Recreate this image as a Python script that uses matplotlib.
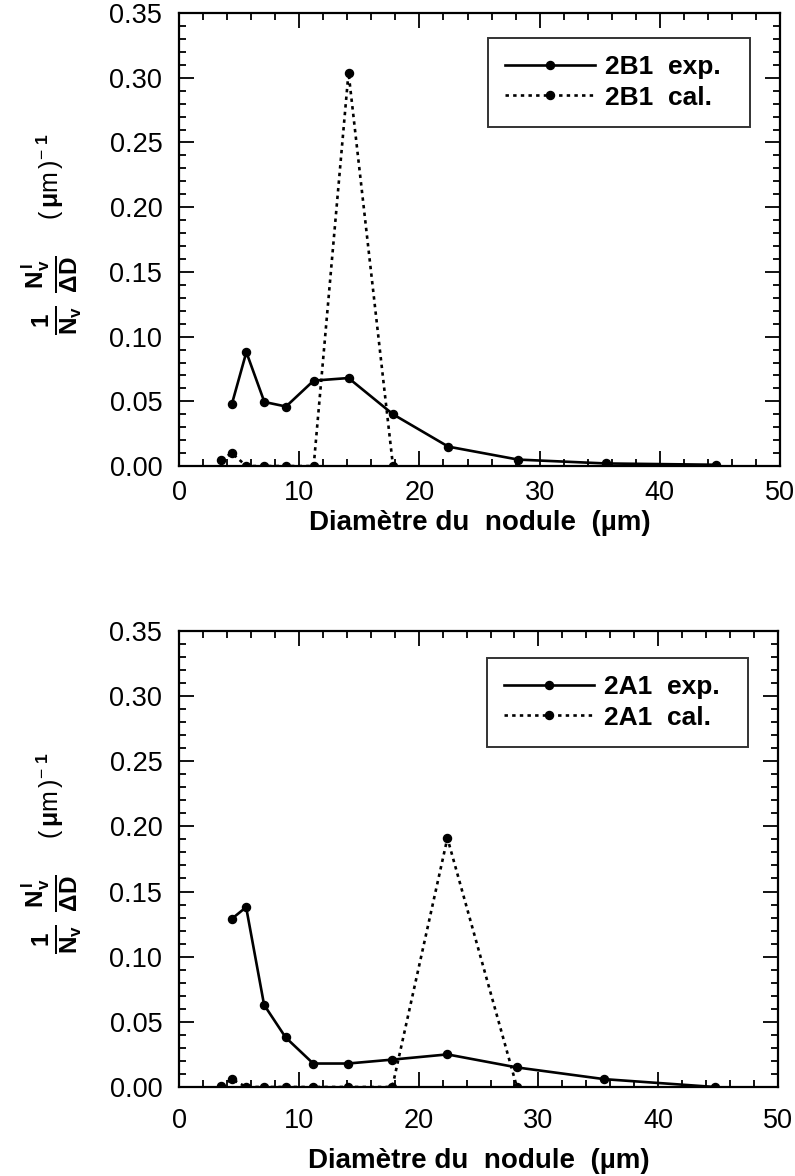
import numpy as np
import matplotlib
matplotlib.use("Agg")
import matplotlib.pyplot as plt
from matplotlib.ticker import MultipleLocator

plt.rcParams['font.family'] = ['Liberation Sans', 'DejaVu Sans']
plt.rcParams['mathtext.fontset'] = 'custom'
plt.rcParams['mathtext.rm'] = 'Liberation Sans'
plt.rcParams['mathtext.it'] = 'Liberation Sans:bold'
plt.rcParams['mathtext.bf'] = 'Liberation Sans:bold'

# Classes de diamètre (µm)
d_2b1_exp = [4.4, 5.6, 7.1, 8.9, 11.2, 14.1, 17.8, 22.4, 28.2, 35.5, 44.7]
v_2b1_exp = [0.048, 0.088, 0.0495, 0.046, 0.066, 0.068, 0.040, 0.015, 0.005, 0.002, 0.001]
d_2b1_cal = [3.5, 4.4, 5.6, 7.1, 8.9, 11.2, 14.1, 17.8]
v_2b1_cal = [0.005, 0.010, 0.0, 0.0, 0.0, 0.0, 0.304, 0.0]

d_2a1_exp = [4.4, 5.6, 7.1, 8.9, 11.2, 14.1, 17.8, 22.4, 28.2, 35.5, 44.7]
v_2a1_exp = [0.129, 0.138, 0.063, 0.038, 0.018, 0.018, 0.021, 0.025, 0.015, 0.006, 0.0]
d_2a1_cal = [3.5, 4.4, 5.6, 7.1, 8.9, 11.2, 14.1, 17.8, 22.4, 28.2]
v_2a1_cal = [0.001, 0.006, 0.0, 0.0, 0.0, 0.0, 0.0, 0.0, 0.191, 0.0]

x_ticks = [0, 10, 20, 30, 40, 50]
y_ticks = [0.00, 0.05, 0.10, 0.15, 0.20, 0.25, 0.30, 0.35]

# ordonnée : fraction + unité, en deux morceaux comme sur l'original
ylab_frac = r'$\mathbf{\frac{1}{N_v}\ \frac{N_v^{\,l}}{\Delta D}}$'
ylab_unit = r'$(\,\mu\mathrm{m}\,)^{-\ \mathbf{1}}$'
xlabel = 'Diamètre du  nodule  (µm)'


def draw_panel(ax, dx, vx, dc, vc, name, leg_x, leg_top, tick_pad, lab_pad):
    ax.plot(dx, vx, '-', color='black', lw=1.9, marker='o', ms=5.8,
            label=f'{name}  exp.')
    ax.plot(dc, vc, linestyle=(0, (1.3, 1.6)), color='black', lw=1.9,
            marker='o', ms=5.8, label=f'{name}  cal.')
    ax.set_xlim(0, 50)
    ax.set_ylim(0, 0.35)
    ax.set_xticks(x_ticks)
    ax.set_yticks(y_ticks)
    ax.set_yticklabels([f'{t:.2f}' for t in y_ticks])
    ax.xaxis.set_minor_locator(MultipleLocator(2))
    ax.yaxis.set_minor_locator(MultipleLocator(0.01))
    ax.tick_params(which='both', direction='in', top=True, right=True,
                   width=1.3, labelsize=19.5)
    ax.tick_params(which='major', length=11)
    ax.tick_params(which='minor', length=5)
    ax.tick_params(axis='y', which='major', pad=12)
    ax.tick_params(axis='x', which='major', pad=tick_pad)
    for s in ax.spines.values():
        s.set_linewidth(1.6)
    ax.set_xlabel(xlabel, fontsize=20, fontweight='bold', labelpad=lab_pad)
    ax.text(-0.212, 0.378, ylab_frac, transform=ax.transAxes, rotation=90,
            ha='center', va='center', fontsize=25)
    ax.text(-0.215, 0.640, ylab_unit, transform=ax.transAxes, rotation=90,
            ha='center', va='center', fontsize=18)
    leg = ax.legend(loc='upper left', bbox_to_anchor=(leg_x, 0.0, 0.436, leg_top),
                    mode='expand', frameon=True, fancybox=False,
                    edgecolor='black', handlelength=3.4, handletextpad=0.4,
                    borderaxespad=0, borderpad=0.65,
                    prop={'weight': 'bold', 'size': 19}, labelspacing=0.25)
    leg.get_frame().set_linewidth(1.4)


fig = plt.figure(figsize=(7.95, 11.76), dpi=100)
ax1 = fig.add_axes([0.2252, 0.6037, 0.756, 0.3852])
ax2 = fig.add_axes([0.2252, 0.0757, 0.7535, 0.3878])

draw_panel(ax1, d_2b1_exp, v_2b1_exp, d_2b1_cal, v_2b1_cal, '2B1',
           0.514, 0.945, 10, 3)
draw_panel(ax2, d_2a1_exp, v_2a1_exp, d_2a1_cal, v_2a1_cal, '2A1',
           0.514, 0.941, 15, 10)

fig.savefig('out.png', dpi=100)
